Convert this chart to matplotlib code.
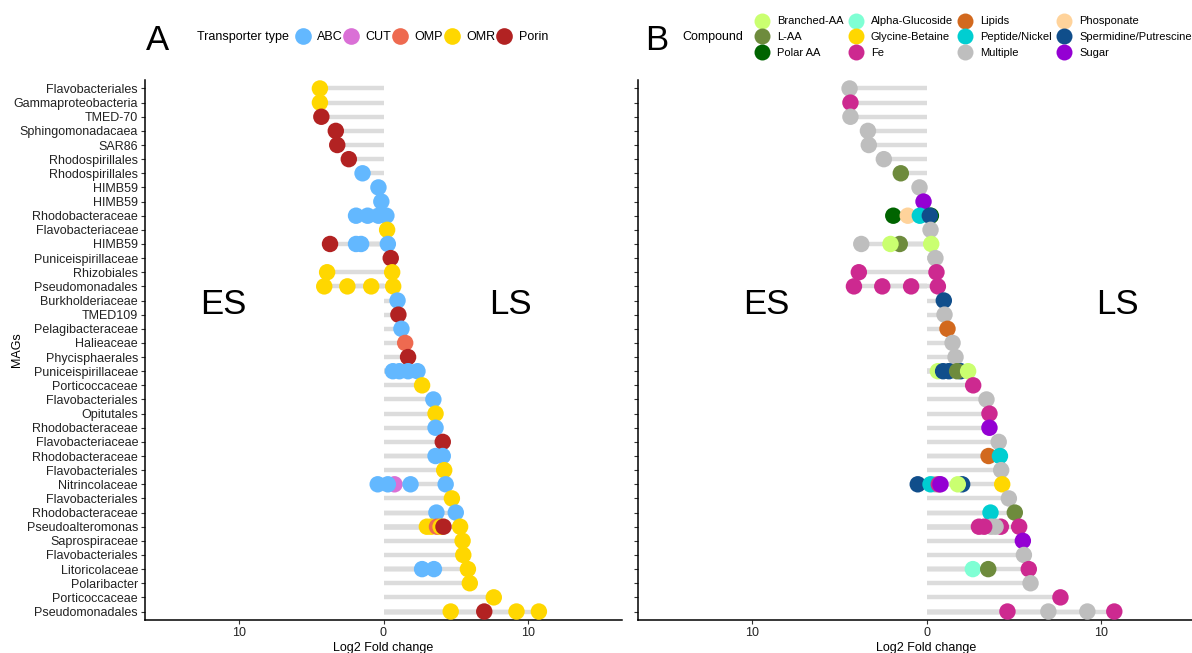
import matplotlib
matplotlib.use("Agg")
import matplotlib.pyplot as plt
from matplotlib.lines import Line2D

plt.rcParams["font.family"] = ["Liberation Sans", "DejaVu Sans"]

# MAG names, top to bottom
mags = [
    "Flavobacteriales", "Gammaproteobacteria", "TMED-70", "Sphingomonadacaea",
    "SAR86", "Rhodospirillales", "Rhodospirillales", "HIMB59", "HIMB59",
    "Rhodobacteraceae", "Flavobacteriaceae", "HIMB59", "Puniceispirillaceae",
    "Rhizobiales", "Pseudomonadales", "Burkholderiaceae", "TMED109",
    "Pelagibacteraceae", "Halieaceae", "Phycisphaerales", "Puniceispirillaceae",
    "Porticoccaceae", "Flavobacteriales", "Opitutales", "Rhodobacteraceae",
    "Flavobacteriaceae", "Rhodobacteraceae", "Flavobacteriales", "Nitrincolaceae",
    "Flavobacteriales", "Rhodobacteraceae", "Pseudoalteromonas", "Saprospiraceae",
    "Flavobacteriales", "Litoricolaceae", "Polaribacter", "Porticoccaceae",
    "Pseudomonadales",
]

# Panel A: transporter genes (row number, log2 fold change, transporter type)
a_row = [1, 2, 3, 4, 5, 6, 7, 8, 9,
         10, 10, 10, 10, 11, 12, 12, 12, 12, 13, 14, 14, 15, 15, 15, 15,
         16, 17, 18, 19, 20, 21, 21, 21, 21, 22, 23, 24, 25, 26, 27, 27, 28,
         29, 29, 29, 29, 29, 30, 31, 31, 32, 32, 32, 32, 32, 32, 33, 34,
         35, 35, 35, 36, 37, 38, 38, 38, 38]
a_lfc = [-4.4, -4.4, -4.3, -3.3, -3.2, -2.4, -1.45, -0.35, -0.15,
         -1.9, -1.1, -0.35, 0.2, 0.25, -3.7, -1.9, -1.55, 0.3, 0.5, -3.9, 0.6,
         -4.1, -2.5, -0.85, 0.67,
         0.97, 1.03, 1.24, 1.5, 1.7, 0.65, 1.1, 1.7, 2.35, 2.67, 3.45, 3.6, 3.6,
         4.1, 3.6, 4.1, 4.2,
         0.76, -0.4, 0.3, 1.87, 4.3, 4.73, 3.66, 5.0,
         3.0, 3.3, 3.7, 3.95, 4.15, 5.3, 5.47, 5.52,
         2.67, 3.49, 5.84, 5.97, 7.63, 4.65, 6.97, 9.2, 10.75]
a_type = ["OMR", "OMR", "Porin", "Porin", "Porin", "Porin", "ABC", "ABC", "ABC",
          "ABC", "ABC", "ABC", "ABC", "OMR", "Porin", "ABC", "ABC", "ABC", "Porin",
          "OMR", "OMR", "OMR", "OMR", "OMR", "OMR",
          "ABC", "Porin", "ABC", "OMP", "Porin", "ABC", "ABC", "ABC", "ABC", "OMR",
          "ABC", "OMR", "ABC", "Porin", "ABC", "ABC", "OMR",
          "CUT", "ABC", "ABC", "ABC", "ABC", "OMR", "ABC", "ABC",
          "OMR", "OMR", "OMP", "OMR", "Porin", "OMR", "OMR", "OMR",
          "ABC", "ABC", "OMR", "OMR", "OMR", "OMR", "Porin", "OMR", "OMR"]

# Panel B: transported compound (row number, log2 fold change, compound)
b_row = [1, 2, 3, 4, 5, 6, 7, 8, 9,
         10, 10, 10, 10, 10, 11, 12, 12, 12, 12, 13, 14, 14, 15, 15, 15, 15,
         16, 17, 18, 19, 20, 21, 21, 21, 21, 21, 21, 22, 23, 24, 25, 26, 27, 27,
         28, 29, 29, 29, 29, 29, 29, 29, 29, 30, 31, 31,
         32, 32, 32, 32, 32, 32, 33, 34, 35, 35, 35, 36, 37, 38, 38, 38, 38]
b_lfc = [-4.4, -4.35, -4.35, -3.35, -3.3, -2.44, -1.47, -0.4, -0.17,
         0.25, -1.9, -1.07, -0.38, 0.19, 0.23, -3.73, -1.53, -2.06, 0.27, 0.51,
         -3.87, 0.57, -4.15, -2.53, -0.88, 0.65,
         0.99, 1.03, 1.2, 1.49, 1.66, 1.95, 0.65, 0.95, 1.28, 1.75, 2.38, 2.67,
         3.43, 3.6, 3.6, 4.13, 3.55, 4.2,
         4.27, 2.04, -0.5, 0.5, 0.23, 0.7, 0.8, 1.79, 4.33, 4.71, 3.66, 5.05,
         4.25, 3.95, 3.7, 3.3, 3.0, 5.3, 5.51, 5.57, 2.65, 3.53, 5.85, 5.95, 7.66,
         4.63, 6.97, 9.2, 10.74]
b_cmp = ["Multiple", "Fe", "Multiple", "Multiple", "Multiple", "Multiple", "L-AA",
         "Multiple", "Sugar",
         "Polar AA", "Polar AA", "Phosponate", "Peptide/Nickel", "Spermidine/Putrescine",
         "Multiple", "Multiple", "L-AA", "Branched-AA", "Branched-AA", "Multiple",
         "Fe", "Fe", "Fe", "Fe", "Fe", "Fe",
         "Spermidine/Putrescine", "Multiple", "Lipids", "Multiple", "Multiple",
         "Spermidine/Putrescine", "Branched-AA", "Spermidine/Putrescine",
         "Spermidine/Putrescine", "L-AA", "Branched-AA", "Fe",
         "Multiple", "Fe", "Sugar", "Multiple", "Lipids", "Peptide/Nickel",
         "Multiple", "Spermidine/Putrescine", "Spermidine/Putrescine", "Multiple",
         "Peptide/Nickel", "Fe", "Sugar", "Branched-AA", "Glycine-Betaine",
         "Multiple", "Peptide/Nickel", "L-AA",
         "Fe", "Multiple", "Multiple", "Fe", "Fe", "Fe", "Sugar", "Multiple",
         "Alpha-Glucoside", "L-AA", "Fe", "Multiple", "Fe",
         "Fe", "Multiple", "Multiple", "Fe"]

type_colors = {"ABC": "#63B8FF", "CUT": "#DA70D6", "OMP": "#EE6A50",
               "OMR": "#FFD700", "Porin": "#B22222"}
compound_colors = {
    "Branched-AA": "#CAFF70", "L-AA": "#6E8B3D", "Polar AA": "#006400",
    "Alpha-Glucoside": "#7FFFD4", "Glycine-Betaine": "#FFD700", "Fe": "#CD2990",
    "Lipids": "#D2691E", "Peptide/Nickel": "#00CED1", "Multiple": "#BEBEBE",
    "Phosponate": "#FFD39B", "Spermidine/Putrescine": "#104E8B", "Sugar": "#9400D3",
}

W, H = 1192, 653
fig = plt.figure(figsize=(W / 100, H / 100), dpi=100)

bottom = 1 - 620 / H
height = (620 - 80) / H
axA = fig.add_axes([145 / W, bottom, (622 - 145) / W, height])
axB = fig.add_axes([638 / W, bottom, (1215 - 638) / W, height])

SEG = "#DCDCDC"
MS = 140


def lollipop(ax, rows, vals, cats, colors):
    ax.hlines(rows, 0, vals, color=SEG, lw=3.2, zorder=1)
    ax.scatter(vals, rows, s=MS, c=[colors[c] for c in cats],
               linewidths=0, zorder=3)
    ax.set_ylim(len(mags) + 0.6, 0.4)
    ax.set_xlim(-16.5, 16.5)
    ax.set_xticks([-10, 0, 10])
    ax.set_xticklabels(["10", "0", "10"])
    ax.set_yticks(range(1, len(mags) + 1))
    for s in ("top", "right"):
        ax.spines[s].set_visible(False)
    for s in ("left", "bottom"):
        ax.spines[s].set_linewidth(1.1)
    ax.tick_params(axis="both", length=3, width=0.8, colors="#333333",
                   labelsize=9, labelcolor="#222222", pad=2)
    ax.set_xlabel("Log2 Fold change", fontsize=9, labelpad=2)


lollipop(axA, a_row, a_lfc, a_type, type_colors)
lollipop(axB, b_row, b_lfc, b_cmp, compound_colors)
axA.set_yticklabels(mags)
axB.set_yticklabels([])
axA.set_ylabel("MAGs", fontsize=9)
axA.yaxis.set_label_coords((23 - 145) / (622 - 145), 0.5)

# Early / late stage annotations
axA.text(-11.1, 16.3, "ES", fontsize=25, ha="center", va="center")
axA.text(8.8, 16.3, "LS", fontsize=25, ha="center", va="center")
axB.text(-9.15, 16.3, "ES", fontsize=25, ha="center", va="center")
axB.text(10.9, 16.3, "LS", fontsize=25, ha="center", va="center")

# Panel letters
fig.text(158 / W, 1 - 40 / H, "A", fontsize=25, ha="center", va="center")
fig.text(657 / W, 1 - 40 / H, "B", fontsize=25, ha="center", va="center")

# Legend A
fig.text(197 / W, 1 - 37 / H, "Transporter type", fontsize=9, va="center")
hA = [Line2D([], [], ls="", marker="o", ms=12, mew=0, color=type_colors[k])
      for k in type_colors]
fig.legend(hA, list(type_colors), loc="center left",
           bbox_to_anchor=(295 / W, 1 - 37 / H), ncol=5, frameon=False,
           fontsize=9, handlelength=1.2, handletextpad=0.55,
           columnspacing=0.1, borderpad=0, borderaxespad=0)

# Legend B
fig.text(682 / W, 1 - 37 / H, "Compound", fontsize=9, va="center")
hB = [Line2D([], [], ls="", marker="o", ms=11.5, mew=0, color=compound_colors[k])
      for k in compound_colors]
fig.legend(hB, list(compound_colors), loc="center left",
           bbox_to_anchor=(755 / W, 1 - 37 / H), ncol=4, frameon=False,
           fontsize=8.0, handlelength=1.3, handletextpad=0.7,
           columnspacing=0.45, labelspacing=0.5, borderpad=0, borderaxespad=0)

fig.savefig("out.png", dpi=100)
